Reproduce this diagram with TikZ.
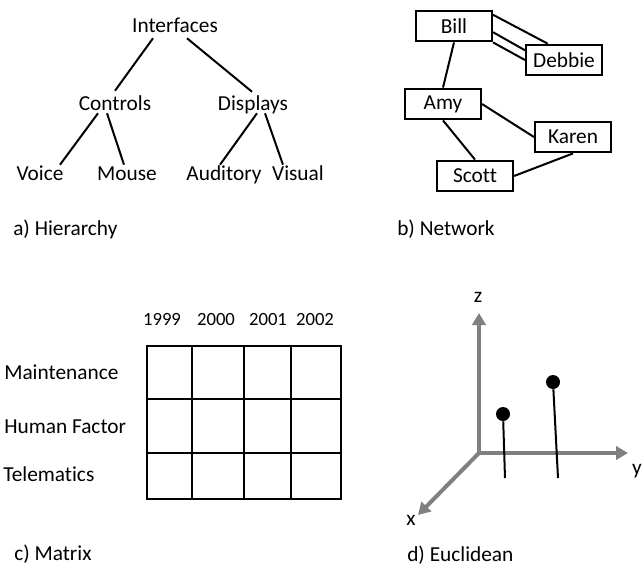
\documentclass[tikz,border=0pt]{standalone}
\usepackage{fontspec}
\setmainfont[Ligatures=NoCommon]{Carlito}
\usepackage{xcolor}
\usepackage{tikz}
\usetikzlibrary{arrows.meta,calc}
\definecolor{axisgray}{RGB}{128,128,128}

\begin{document}
\begin{tikzpicture}[
  x=0.75pt, y=-0.75pt,
  font=\fontsize{16}{19}\selectfont,
  term/.style={inner sep=1.5pt, text height=10.5pt, text depth=3pt},
  person/.style={draw, line width=1.6pt, minimum width=57pt, minimum height=23pt, inner sep=0pt},
  panel/.style={anchor=base west, inner sep=0pt},
  year/.style={anchor=base, inner sep=0pt, font=\fontsize{14}{17}\selectfont},
  tie/.style={line width=1.5pt},
  grid/.style={line width=1.8pt, line cap=rect},
  axis/.style={draw=axisgray, line width=3pt, -{Triangle[length=9pt,width=10pt]}},
  point/.style={circle, fill=black, inner sep=0pt, minimum size=10.5pt}
]
\useasboundingbox (0,0) rectangle (643,565);

% a) hierarchy
\node[term] (interfaces) at (175,27) {Interfaces};
\node[term] (controls) at (115,105) {Controls};
\node[term] (displays) at (253,105) {Displays};
\node[term] (voice) at (40,175) {Voice};
\node[term] (mouse) at (127,175) {Mouse};
\node[term] (auditory) at (224,175) {Auditory};
\node[term] (visual) at (298,175) {Visual};
\draw[tie] ($(interfaces.south)+(-22,0)$) -- ($(controls.north)+(0,-3)$);
\draw[tie] ($(interfaces.south)+(12,0)$) -- ($(displays.north)+(-1,-2)$);
\draw[tie] ($(controls.south)+(-17,-3)$) -- ($(voice.north)+(20,1)$);
\draw[tie] ($(controls.south)+(-8,-3)$) -- ($(mouse.north)+(-3,1)$);
\draw[tie] ($(displays.south)+(4,-3)$) -- ($(auditory.north)+(-4,1)$);
\draw[tie] ($(displays.south)+(12,-3)$) -- ($(visual.north)+(-15,1)$);
\node[panel] (capA) at (13,235) {a) Hierarchy};

% b) network
\node[person] (bill) at (454,26) {Bill};
\node[person] (debbie) at (564,60) {Debbie};
\node[person] (amy) at (443,104) {Amy};
\node[person] (karen) at (573,137) {Karen};
\node[person] (scott) at (475,176) {Scott};
\draw[tie] (bill.16) -- (debbie.135);
\draw[tie] (bill.-9) -- (debbie.166);
\draw[tie] (bill.south east) -- (debbie.west);
\draw[tie] (bill.south) -- (amy.north);
\draw[tie] (amy.east) -- (karen.west);
\draw[tie] (amy.south) -- (scott.north);
\draw[tie] (scott.east) -- (karen.south);
\node[panel] (capB) at (397,235) {b) Network};

% c) matrix
\node[year] (y1999) at (162,325) {1999};
\node[year] (y2000) at (216,325) {2000};
\node[year] (y2001) at (268,325) {2001};
\node[year] (y2002) at (315,325) {2002};
\node[panel] (maint) at (4,379) {Maintenance};
\node[panel] (human) at (4,433) {Human Factor};
\node[panel] (telem) at (3,481) {Telematics};
\foreach \gx in {147,192,244,291,341}
  \draw[grid] (\gx,346) -- (\gx,499);
\foreach \gy in {346,399,453,499}
  \draw[grid] (147,\gy) -- (341,\gy);
\node[panel] (capC) at (14,560) {c) Matrix};

% d) euclidean
\coordinate (O) at (479,453);
\coordinate (ztip) at (479,313);
\coordinate (ytip) at (628,453);
\coordinate (xtip) at (418,515);
\draw[axis] (O) -- (ztip);
\draw[axis] (O) -- (ytip);
\draw[axis] (O) -- (xtip);
\node[anchor=base, inner sep=0pt] (zlab) at (478,302) {z};
\node[anchor=base east, inner sep=0pt] (ylab) at (642,474) {y};
\node[anchor=base, inner sep=0pt] (xlab) at (411,525) {x};
\node[point] (p1) at (503,414) {};
\node[point] (p2) at (553,382) {};
\coordinate (p1foot) at (505,478);
\coordinate (p2foot) at (558,478);
\draw[tie] (p1) -- (p1foot);
\draw[tie] (p2) -- (p2foot);
\node[panel] (capD) at (407,561) {d) Euclidean};
\end{tikzpicture}
\end{document}
